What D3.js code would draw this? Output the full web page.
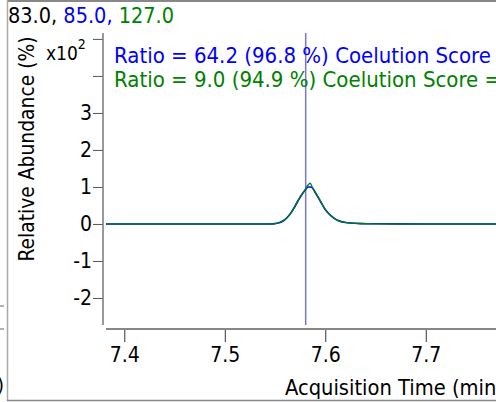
<!DOCTYPE html>
<html><head><meta charset="utf-8">
<script src="https://cdn.jsdelivr.net/npm/d3@7"></script>
<style>
html,body{margin:0;padding:0;background:#fff;}
svg{display:block;}
text{font-family:"DejaVu Sans Condensed","DejaVu Sans",sans-serif;}
</style></head>
<body>
<svg id="c" width="496" height="402"></svg>
<script>
// ---- data ----
const times = [7.37, 7.45, 7.52, 7.545, 7.550, 7.555, 7.560, 7.565, 7.570, 7.575, 7.580, 7.583, 7.585, 7.587, 7.590, 7.595, 7.600, 7.605, 7.610, 7.615, 7.620, 7.625, 7.635, 7.650, 7.700, 7.780];
const blueValues  = [0, 0, 0, 0, 0.01, 0.04, 0.12, 0.27, 0.48, 0.72, 0.92, 1.00, 1.00, 0.98, 0.85, 0.62, 0.39, 0.24, 0.13, 0.07, 0.04, 0.025, 0.01, 0.004, 0, 0];
const greenValues = [0, 0, 0, 0, 0.01, 0.05, 0.13, 0.26, 0.50, 0.74, 0.93, 1.06, 1.10, 1.00, 0.86, 0.63, 0.38, 0.24, 0.13, 0.07, 0.045, 0.03, 0.012, 0.005, 0, 0];
const xTicks = [7.4, 7.5, 7.6, 7.7];
const yTicks = [-2, -1, 0, 1, 2, 3, 4, 5];
const yTickLabels = ["-2", "-1", "0", "1", "2", "3", "", ""];
const markerTime = 7.5805;
const titleParts = [["83.0, ", "#000"], ["85.0, ", "#0000ff"], ["127.0", "#008000"]];
const ratioLines = [["Ratio = 64.2 (96.8 %) Coelution Score", "#0000ff"], ["Ratio = 9.0 (94.9 %) Coelution Score =", "#008000"]];

const svg = d3.select("#c");
const x = d3.scaleLinear().domain([7.3788, 7.7699]).range([103, 496]);
const y = d3.scaleLinear().domain([-2.73, 5.16]).range([325, 33]);

// frame pieces
svg.append("line").attr("x1",7).attr("x2",496).attr("y1",1).attr("y2",1).attr("stroke","#888").attr("stroke-width",2);
svg.append("line").attr("x1",7.5).attr("x2",7.5).attr("y1",0).attr("y2",401).attr("stroke","#aaa").attr("stroke-width",1.5);
svg.append("line").attr("x1",7).attr("x2",496).attr("y1",400.5).attr("y2",400.5).attr("stroke","#888").attr("stroke-width",1.5);
[306, 329].forEach(v => svg.append("line").attr("x1",0).attr("x2",4).attr("y1",v).attr("y2",v).attr("stroke","#666"));
svg.append("text").attr("x",-3).attr("y",392).attr("font-size",20).text(")");

// title
const t = svg.append("text").attr("x",8).attr("y",23).attr("font-size",21.5);
titleParts.forEach(p => t.append("tspan").attr("fill",p[1]).text(p[0]));

// y axis
const ya = svg.append("g").attr("transform","translate(103,0)")
  .call(d3.axisLeft(y).tickValues(yTicks).tickSize(10).tickSizeOuter(0).tickPadding(1)
        .tickFormat((d,i)=>yTickLabels[i]));
ya.select(".domain").remove();
ya.selectAll(".tick line").attr("stroke","#555");
ya.selectAll(".tick text").attr("font-size",21).attr("font-family",null).attr("fill","#000");
svg.append("line").attr("x1",103).attr("x2",103).attr("y1",y.range()[1]).attr("y2",y.range()[0]).attr("stroke","#777").attr("stroke-width",1.5);

// x axis
const xa = svg.append("g").attr("transform","translate(0,329)")
  .call(d3.axisBottom(x).tickValues(xTicks).tickSize(13).tickSizeOuter(0).tickPadding(5).tickFormat(d3.format(".1f")));
xa.select(".domain").remove();
xa.selectAll(".tick line").attr("stroke","#333");
xa.selectAll(".tick text").attr("font-size",21).attr("font-family",null).attr("fill","#000");
svg.append("line").attr("x1",106).attr("x2",496).attr("y1",329).attr("y2",329).attr("stroke","#888").attr("stroke-width",2);

// multiplier
const m = svg.append("text").attr("x",46).attr("y",60).attr("font-size",19);
m.append("tspan").text("x10");
m.append("tspan").attr("dy",-11).attr("font-size",14).text("2");

// axis titles
svg.append("text").attr("transform","translate(34,149) rotate(-90)").attr("text-anchor","middle").attr("font-size",20.8).text("Relative Abundance (%)");
svg.append("text").attr("x",285).attr("y",395).attr("font-size",21.7).text("Acquisition Time (min)");

// clip
svg.append("clipPath").attr("id","pc").append("rect").attr("x",106).attr("y",33).attr("width",390).attr("height",292);
const g = svg.append("g").attr("clip-path","url(#pc)");

// marker
g.append("line").attr("x1",x(markerTime)).attr("x2",x(markerTime)).attr("y1",33).attr("y2",325).attr("stroke","#7777cc").attr("stroke-width",1.5);

const line = vals => d3.line().x((d,i)=>x(times[i])).y(d=>y(d)).curve(d3.curveMonotoneX)(vals);
g.append("path").attr("d",line(blueValues)).attr("fill","none").attr("stroke","#0000ee").attr("stroke-width",1.6);
g.append("path").attr("d",line(greenValues)).attr("fill","none").attr("stroke","#007a2a").attr("stroke-width",1.3);

// ratio texts
ratioLines.forEach((r,i)=>svg.append("text").attr("x",114).attr("y",63+i*24).attr("font-size",22).attr("fill",r[1]).text(r[0]));
</script>
</body></html>
